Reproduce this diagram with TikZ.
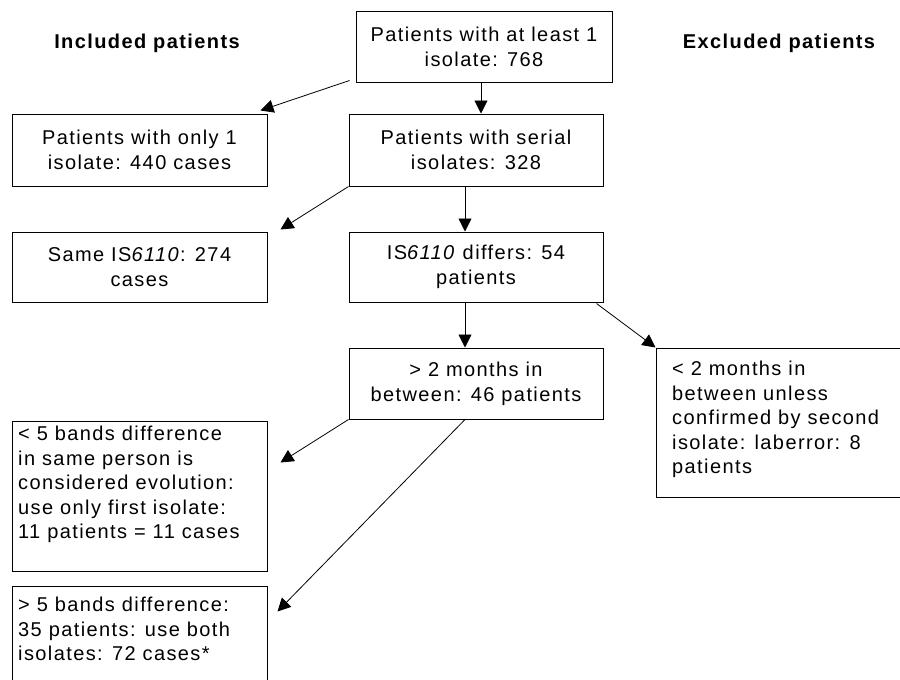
\documentclass[tikz,border=0pt]{standalone}
\usepackage{fontspec}
\setmainfont{Liberation Sans}[LetterSpace=7]
\usetikzlibrary{arrows.meta}
\tikzset{
  box/.style={draw=black, line width=1pt, rectangle, inner sep=0pt, align=center,
    font=\fontsize{20}{25}\selectfont},
  txt/.style={inner sep=0pt, align=left, anchor=north west,
    font=\fontsize{20}{24.5}\selectfont},
  hdr/.style={inner sep=0pt, font=\fontsize{20}{24}\selectfont\bfseries},
  conn/.style={draw=black, line width=0.8pt, -{Triangle[length=13pt,width=13pt]}}
}
\begin{document}
\begin{tikzpicture}[x=1pt, y=-1pt]
\useasboundingbox (0,0) rectangle (900,680);
\clip (0,0) rectangle (900,680);
\fill[white] (0,0) rectangle (900,680);

% headers
\node[hdr] (hin) at (147,43) {Included patients};
\node[hdr] (hex) at (779,43) {Excluded patients};

% boxes
\node[box, minimum width=256pt, minimum height=71pt] (b1) at (484,46.5) {Patients with at least 1\\isolate: 768};
\node[box, minimum width=255pt, minimum height=72pt] (b2) at (139.5,150) {Patients with only 1\\isolate: 440 cases};
\node[box, minimum width=254pt, minimum height=72pt] (b3) at (476,150) {Patients with serial\\isolates: 328};
\node[box, minimum width=255pt, minimum height=70pt] (b4) at (139.5,267) {Same IS\textit{6110}: 274\\cases};
\node[box, minimum width=254pt, minimum height=70pt] (b5) at (476,267) {IS\textit{6110} differs: 54\\patients};
\node[box, minimum width=254pt, minimum height=71pt] (b6) at (476,383.5) {{}> 2 months in\\between: 46 patients};
\node[box, minimum width=260pt, minimum height=149pt] (b7) at (786,422.5) {};
\node[box, minimum width=255pt, minimum height=150pt] (b8) at (139.5,496) {};
\node[box, minimum width=255pt, minimum height=110pt] (b9) at (139.5,641) {};

% texts of the left-aligned boxes
\node[txt] (t7) at (672,361) {< 2 months in\\between unless\\confirmed by second\\isolate: laberror: 8\\patients};
\node[txt] (t8) at (18,426) {< 5 bands difference\\in same person is\\considered evolution:\\use only first isolate:\\11 patients = 11 cases};
\node[txt] (t9) at (18,597) {{}> 5 bands difference:\\35 patients: use both\\isolates: 72 cases*};

% connectors
\draw[conn] ([shift={(-6,-2)}]b1.south west) -- ([shift={(-7,-3)}]b2.north east);
\draw[conn] ([xshift=-3pt]b1.south) -- ([xshift=-3pt]b1.south |- b3.north);
\draw[conn] (b3.south west) -- ([shift={(13,-2)}]b4.north east);
\draw[conn] ([xshift=-11pt]b3.south) -- ([xshift=-11pt]b3.south |- b5.north);
\draw[conn] ([xshift=-11pt]b5.south) -- ([xshift=-11pt]b5.south |- b6.north);
\draw[conn] ([shift={(-7,1)}]b5.south east) -- (b7.north west);
\draw[conn] (b6.south west) -- ([shift={(13,42)}]b8.north east);
\draw[conn] ([xshift=-11pt]b6.south) -- ([shift={(10,26)}]b9.north east);
\end{tikzpicture}
\end{document}
